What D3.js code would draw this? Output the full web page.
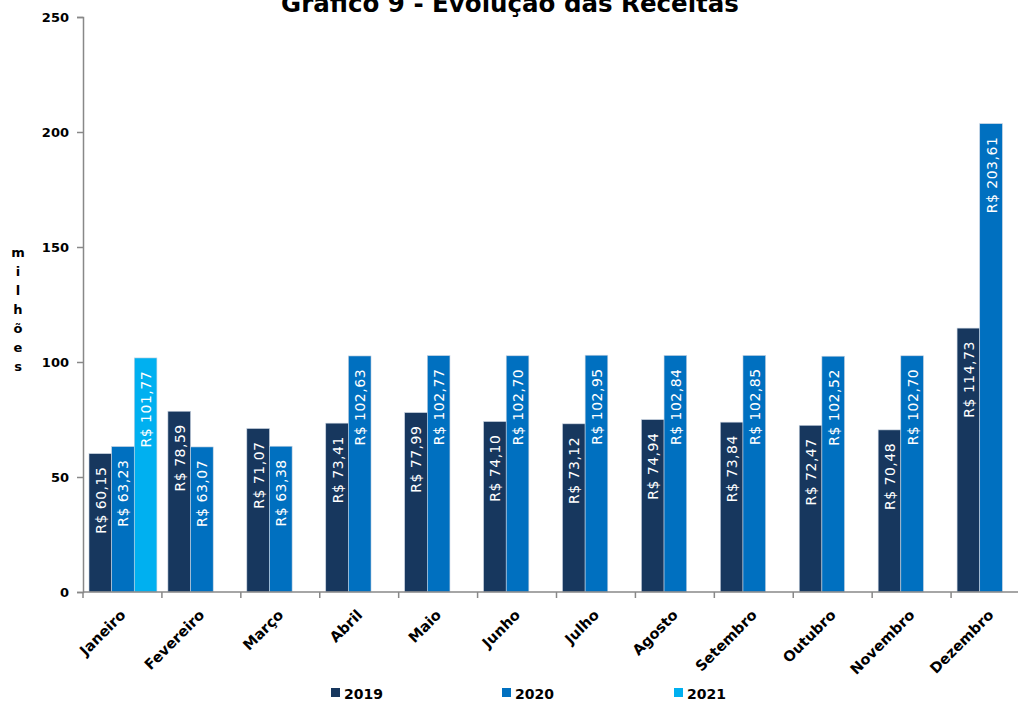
<!DOCTYPE html>
<html><head><meta charset="utf-8">
<script src="https://cdn.jsdelivr.net/npm/d3@7/dist/d3.min.js"></script>
<style>body{margin:0;background:#fff}svg{display:block}</style>
</head><body>
<svg id="c" width="1018" height="702"></svg>
<script>
const months = ["Janeiro","Fevereiro","Março","Abril","Maio","Junho","Julho","Agosto","Setembro","Outubro","Novembro","Dezembro"];
const seriesNames = ["2019","2020","2021"];
const v2019 = [60.15,78.59,71.07,73.41,77.99,74.10,73.12,74.94,73.84,72.47,70.48,114.73];
const v2020 = [63.23,63.07,63.38,102.63,102.77,102.70,102.95,102.84,102.85,102.52,102.70,203.61];
const v2021 = [101.77,null,null,null,null,null,null,null,null,null,null,null];
const yTicks = [0,50,100,150,200,250];
const colors = ["#17375E","#0070C0","#00B0F0"];
const title = "Gráfico 9 - Evolução das Receitas";
const yLabel = "milhões";

const svg = d3.select("#c");
const font = "'DejaVu Sans', Verdana, sans-serif";
const x0 = d3.scaleBand().domain(months).range([83, 1030]).paddingInner(0).paddingOuter(0);
const x1 = d3.scaleBand().domain(seriesNames).range([6, x0.bandwidth()-5]);
const y = d3.scaleLinear().domain([0,250]).range([592,17]);
const all = [v2019, v2020, v2021];

// title
svg.append("text").attr("x",510).attr("y",12).attr("text-anchor","middle")
  .attr("font-family",font).attr("font-weight","bold").attr("font-size",24.5).attr("fill","#000").text(title);

// bars
const data = [];
months.forEach((m,i)=>seriesNames.forEach((s,j)=>{ if(all[j][i]!=null) data.push({m,s,v:all[j][i],j}); }));
const g = svg.append("g");
g.selectAll("rect").data(data).enter().append("rect")
  .attr("x",d=>x0(d.m)+x1(d.s)).attr("width",x1.bandwidth())
  .attr("y",d=>y(d.v)).attr("height",d=>y(0)-y(d.v))
  .attr("fill",d=>colors[d.j]).attr("stroke","#c8d3e0").attr("stroke-width",0.6);
g.selectAll("text.lbl").data(data).enter().append("text").attr("class","lbl")
  .attr("transform",d=>`translate(${x0(d.m)+x1(d.s)+x1.bandwidth()/2+5.5},${y(d.v)+13}) rotate(-90)`)
  .attr("text-anchor","end").attr("font-family",font).attr("font-size",14).attr("letter-spacing",0.5).attr("fill","#fff")
  .text(d=>"R$ "+d.v.toFixed(2).replace(".",","));

// y axis
const ya = svg.append("g").attr("transform","translate(83,0)")
  .call(d3.axisLeft(y).tickValues(yTicks).tickSize(6).tickPadding(8));
ya.select(".domain").attr("stroke","#888").attr("stroke-width",1.5);
ya.selectAll(".tick line").attr("stroke","#888").attr("stroke-width",1.5);
ya.selectAll("text").attr("font-family",font).attr("font-weight","bold").attr("font-size",13).attr("fill","#000");

// x axis
const xa = svg.append("g").attr("transform","translate(0,592)");
xa.append("line").attr("x1",83).attr("x2",1030).attr("stroke","#888").attr("stroke-width",1.5);
xa.selectAll("line.t").data(months).enter().append("line").attr("class","t")
  .attr("x1",d=>x0(d)).attr("x2",d=>x0(d)).attr("y1",0).attr("y2",6).attr("stroke","#888").attr("stroke-width",1.5);
xa.selectAll("text").data(months).enter().append("text")
  .attr("transform",d=>`translate(${x0(d)+x0.bandwidth()/2+4},${24}) rotate(-45)`)
  .attr("text-anchor","end").attr("font-family",font).attr("font-weight","bold").attr("font-size",14.5).attr("fill","#000").text(d=>d);

// y label
svg.append("g").selectAll("text").data(yLabel.split("")).enter().append("text")
  .attr("x",18).attr("y",(d,i)=>257+i*19).attr("text-anchor","middle")
  .attr("font-family",font).attr("font-weight","bold").attr("font-size",13).attr("fill","#000").text(d=>d);

// legend
const lx = [331,502,674];
const lg = svg.append("g");
seriesNames.forEach((s,i)=>{
  lg.append("rect").attr("x",lx[i]).attr("y",688).attr("width",9).attr("height",9).attr("fill",colors[i]);
  lg.append("text").attr("x",lx[i]+13).attr("y",699).attr("font-family",font).attr("font-weight","bold")
    .attr("font-size",14).attr("fill","#000").text(s);
});
</script>
</body></html>
